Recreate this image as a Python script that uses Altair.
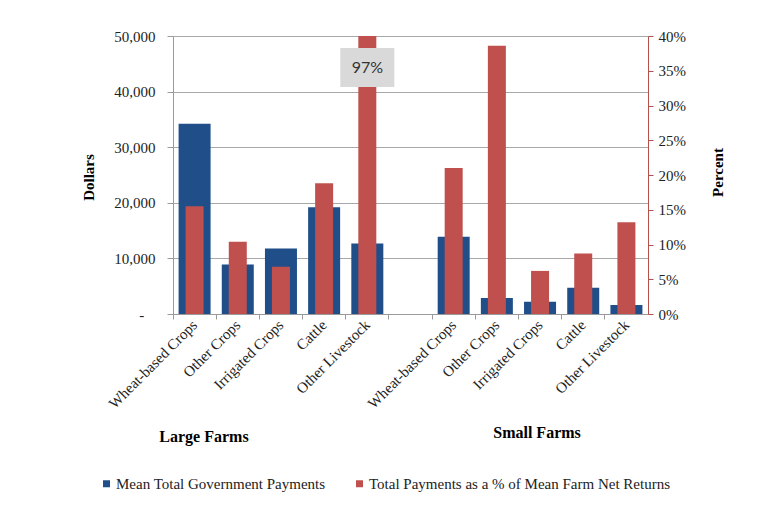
import json
import altair as alt
import pandas as pd

# ---- data ----
groups = ["Large Farms", "Small Farms"]
categories = ["Wheat-based Crops", "Other Crops", "Irrigated Crops", "Cattle", "Other Livestock"]
large_payments = [34200, 8900, 11800, 19200, 12700]   # dollars
large_pct = [15.5, 10.4, 6.8, 18.8, 97.0]             # percent
small_payments = [13900, 2900, 2200, 4700, 1600]
small_pct = [21.0, 38.6, 6.2, 8.7, 13.2]
series = ["Mean Total Government Payments", "Total Payments as a % of Mean Farm Net Returns"]
colors = ["#1f4e89", "#c0504d"]
dollar_ticks = [0, 10000, 20000, 30000, 40000, 50000]
pct_ticks = [0, 0.05, 0.10, 0.15, 0.20, 0.25, 0.30, 0.35, 0.40]

rows = []
for g, pays, pcts in [("Large", large_payments, large_pct), ("Small", small_payments, small_pct)]:
    for c, p, q in zip(categories, pays, pcts):
        rows.append({"key": f"{g}|{c}", "payments": p, "pct": q / 100.0})
df = pd.DataFrame(rows)
domain = [f"Large|{c}" for c in categories] + ["gap|"] + [f"Small|{c}" for c in categories]

SERIF = "Liberation Serif"

x_enc = alt.X(
    "key:N",
    sort=domain,
    scale=alt.Scale(domain=domain, paddingInner=0, paddingOuter=0),
    axis=alt.Axis(
        title=None,
        labelExpr="split(datum.value, '|')[1]",
        labelAngle=-45,
        labelAlign="right",
        labelBaseline="middle",
        labelFont=SERIF,
        labelFontSize=15,
        labelColor="#222222",
        labelPadding=3,
        bandPosition=0,
        tickSize=5,
        tickColor="#9a9a9a",
        domainColor="#9a9a9a",
        grid=False,
    ),
)

blue = alt.Chart(df).transform_calculate(
    series=json.dumps(series[0])
).mark_bar(width=32).encode(
    x=x_enc,
    y=alt.Y(
        "payments:Q",
        scale=alt.Scale(domain=[0, 50000]),
        axis=alt.Axis(
            title="Dollars",
            orient="left",
            values=dollar_ticks,
            labelExpr="datum.value == 0 ? '-\u00a0\u00a0\u00a0\u2060' : format(datum.value, ',')",
            labelFont=SERIF,
            labelFontSize=15,
            labelColor="#222222",
            labelPadding=12,
            tickSize=6,
            tickColor="#9a9a9a",
            domainColor="#9a9a9a",
            grid=True,
            gridColor="#a8a8a8",
            titleFont=SERIF,
            titleFontSize=15,
            titleFontWeight="bold",
            titleColor="#000000",
            titleAngle=270,
            titleAlign="center",
            titleBaseline="middle",
            titleX=-85,
            titleY=141,
        ),
    ),
    color=alt.Color(
        "series:N",
        scale=alt.Scale(domain=series, range=colors),
        legend=alt.Legend(
            title=None,
            orient="none",
            direction="horizontal",
            legendX=-74,
            legendY=440,
            symbolType="square",
            symbolSize=49,
            symbolStrokeWidth=0,
            labelOffset=2,
            labelFont=SERIF,
            labelFontSize=15,
            labelColor="#222222",
            columnPadding=26,
            padding=0,
            labelLimit=400,
        ),
    ),
)

red = alt.Chart(df).transform_calculate(
    series=json.dumps(series[1])
).mark_bar(width=18).encode(
    x=x_enc,
    y=alt.Y(
        "pct:Q",
        scale=alt.Scale(domain=[0, 0.4], clamp=True),
        axis=alt.Axis(
            title="Percent",
            orient="right",
            values=pct_ticks,
            format=".0%",
            labelFont=SERIF,
            labelFontSize=15,
            labelColor="#222222",
            labelPadding=5,
            tickSize=5,
            tickColor="#b5504d",
            domainColor="#b5504d",
            grid=False,
            titleFont=SERIF,
            titleFontSize=15,
            titleFontWeight="bold",
            titleColor="#000000",
            titleAngle=270,
            titleAlign="center",
            titleBaseline="middle",
            titleX=69,
            titleY=136,
        ),
    ),
    color=alt.Color("series:N"),
)

over = alt.Chart(df).transform_filter("datum.pct > 0.4")
label_box = over.mark_bar(width=54, color="#d9d9d9").encode(
    x=x_enc, y=alt.value(12), y2=alt.value(51)
)
label_text = over.mark_text(font="Lato", fontSize=16, color="#333333", baseline="middle").encode(
    x=x_enc, y=alt.value(32), text=alt.Text("pct:Q", format=".0%")
)

large_lbl = alt.Chart(pd.DataFrame({"label": [groups[0]]})).mark_text(
    font=SERIF, fontSize=16, fontWeight="bold", color="#000000", baseline="middle"
).encode(x=alt.value(31), y=alt.value(401), text="label:N")
small_lbl = alt.Chart(pd.DataFrame({"label": [groups[1]]})).mark_text(
    font=SERIF, fontSize=16, fontWeight="bold", color="#000000", baseline="middle"
).encode(x=alt.value(364), y=alt.value(397), text="label:N")

chart = alt.layer(blue, red, label_box, label_text, large_lbl, small_lbl).resolve_scale(
    y="independent"
).properties(
    width=475,
    height=278,
    autosize=alt.AutoSizeParams(type="none"),
    padding={"left": 165, "top": 28, "right": 114, "bottom": 188},
    background="#ffffff",
).configure_view(stroke=None)

chart.save("out.html", embed_options={"renderer": "svg", "actions": False})
